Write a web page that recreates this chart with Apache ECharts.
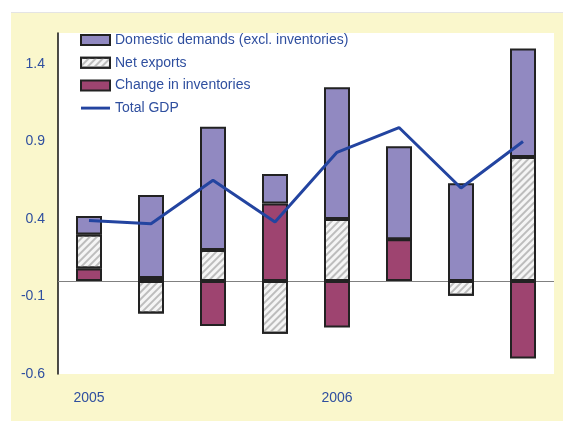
<!DOCTYPE html>
<html>
<head>
<meta charset="utf-8">
<script src="https://cdn.jsdelivr.net/npm/echarts@6/dist/echarts.min.js"></script>
<style>
html,body{margin:0;padding:0;background:#fff;}
#bg{position:absolute;left:11px;top:12px;width:552px;height:409px;background:#FAF7CC;border-top:1px solid #e4e4e4;box-sizing:border-box;}
#chart{position:absolute;left:0;top:0;width:563px;height:421px;}
</style>
</head>
<body>
<div id="bg"></div>
<div id="chart"></div>
<script>
var categories = ['2005 Q1','2005 Q2','2005 Q3','2005 Q4','2006 Q1','2006 Q2','2006 Q3','2006 Q4'];
var xTickLabels = ['2005','','','','2006','','',''];
var yTickLabels = [-0.6, -0.1, 0.4, 0.9, 1.4];
var domesticDemand = [0.12, 0.535, 0.795, 0.19, 0.85, 0.60, 0.63, 0.70];
var netExports = [0.22, -0.21, 0.20, -0.34, 0.40, 0, -0.095, 0.80];
var inventories = [0.08, 0.02, -0.29, 0.50, -0.30, 0.27, 0, -0.50];
var totalGDP = [0.39, 0.37, 0.65, 0.38, 0.83, 0.99, 0.60, 0.90];

var chart = echarts.init(document.getElementById('chart'), null, {renderer:'canvas'});
var txtColor = '#2F4F9F';
var tickFont = '"Liberation Sans", Arial, sans-serif';
var barBorder = {borderColor:'#222', borderWidth:2};
chart.setOption({
  animation:false,
  backgroundColor:'transparent',
  textStyle:{fontFamily:'Liberation Sans, Arial, sans-serif'},
  grid:{left:58, right:9, top:33, bottom:47, show:true, backgroundColor:'#fff', borderWidth:0},
  legend:{
    orient:'vertical', left:75, top:28, itemWidth:29, itemHeight:10, itemGap:8.7,
    icon:'rect',
    textStyle:{color:txtColor, fontSize:14, fontFamily:'Liberation Sans, Arial, sans-serif'},
    data:['Domestic demands (excl. inventories)','Net exports','Change in inventories',
      {name:'Total GDP', icon:'path://M0,0L30,0L30,3L0,3Z'}]
  },
  xAxis:{
    type:'category', data:categories,
    axisLine:{show:false}, axisTick:{show:false},
    axisLabel:{color:txtColor, fontSize:14, fontFamily:tickFont, margin:17, interval:0,
      formatter:function(v, i){return xTickLabels[i];}}
  },
  yAxis:{
    type:'value', min:-0.6, max:1.6,
    splitLine:{show:false},
    axisLine:{show:true, lineStyle:{color:'#111', width:1.5}},
    axisTick:{show:false},
    axisLabel:{color:txtColor, fontSize:14, fontFamily:tickFont, margin:13, customValues:yTickLabels,
      formatter:function(v){return String(Math.round(v*10)/10);}}
  },
  series:[
    {name:'Change in inventories', type:'bar', stack:'a', barWidth:26, data:inventories,
     itemStyle:Object.assign({color:'#9E4470'}, barBorder),
     markLine:{silent:true, symbol:'none', label:{show:false}, lineStyle:{color:'#808080', width:1, type:'solid'},
       data:[{yAxis:0}], z:1}},
    {name:'Net exports', type:'bar', stack:'a', barWidth:26, data:netExports,
     itemStyle:Object.assign({color:'#f5f5f5',
       decal:{symbol:'rect', dashArrayX:[1,0], dashArrayY:[2,3], rotation:-Math.PI/4, color:'#bdbdbd'}}, barBorder)},
    {name:'Domestic demands (excl. inventories)', type:'bar', stack:'a', barWidth:26, data:domesticDemand,
     itemStyle:Object.assign({color:'#9189C1'}, barBorder)},
    {name:'Total GDP', type:'line', data:totalGDP, symbol:'none', z:5,
     lineStyle:{color:'#2344A0', width:3}, itemStyle:{color:'#2344A0'}}
  ]
});
</script>
</body>
</html>
